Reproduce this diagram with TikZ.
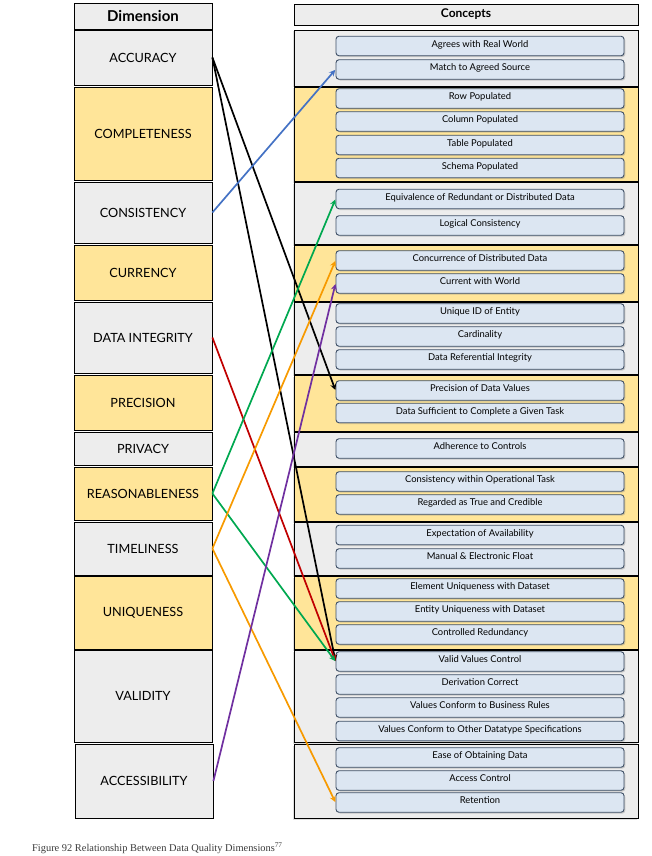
\documentclass[tikz,border=0pt]{standalone}
\usepackage{fontspec}
\setmainfont{Lato}
\newfontfamily\capfont{Liberation Serif}
\usetikzlibrary{shadows}
\definecolor{dimgrey}{HTML}{EDEDED}
\definecolor{dimgold}{HTML}{FFE599}
\definecolor{conceptfill}{HTML}{DCE6F2}
\definecolor{conceptline}{HTML}{3E4F66}
\definecolor{linkblue}{HTML}{4472C4}
\definecolor{linkred}{HTML}{C00000}
\definecolor{linkgreen}{HTML}{00A850}
\definecolor{linkorange}{HTML}{F79A00}
\definecolor{linkpurple}{HTML}{7030A0}
\definecolor{captiongrey}{HTML}{3A3A3A}
\begin{document}
\begin{tikzpicture}[x=1pt,y=-1pt,>=stealth,
	dimbox/.style={draw,line width=0.8pt,minimum width=138pt,inner sep=0pt,font=\fontsize{12.7}{14}\selectfont},
	groupbox/.style={draw,line width=0.8pt,drop shadow={shadow xshift=-1.5pt,shadow yshift=-1.5pt,opacity=0.25}},
	concept/.style={draw=conceptline,line width=0.9pt,fill=conceptfill,rounded corners=3pt,minimum width=288pt,minimum height=19.5pt,inner sep=0pt,text height=6.5pt,text depth=4pt,font=\fontsize{9.4}{11}\selectfont,drop shadow={shadow xshift=1.3pt,shadow yshift=-1.3pt,opacity=0.35}},
	link/.style={line width=1.7pt,->,shorten >=0.5pt}]
	\useasboundingbox (0,0) rectangle (652,856);
	
	% dimensions
	\node[dimbox,fill=dimgrey,minimum height=26pt,font=\bfseries\fontsize{15}{17}\selectfont] at (143,16) (dimension) {Dimension};
	\node[dimbox,fill=dimgrey,minimum height=55pt] at (143,57.5) (accuracy) {ACCURACY};
	\node[dimbox,fill=dimgold,minimum height=93pt] at (143,133.5) (completeness) {COMPLETENESS};
	\node[dimbox,fill=dimgrey,minimum height=61pt] at (143,212.5) (consistency) {CONSISTENCY};
	\node[dimbox,fill=dimgold,minimum height=55pt] at (143,272.5) (currency) {CURRENCY};
	\node[dimbox,fill=dimgrey,minimum height=71pt] at (143,337.5) (integrity) {DATA INTEGRITY};
	\node[dimbox,fill=dimgold,minimum height=55pt] at (143,402.5) (precision) {PRECISION};
	\node[dimbox,fill=dimgrey,minimum height=33pt] at (143,448.5) (privacy) {PRIVACY};
	\node[dimbox,fill=dimgold,minimum height=53pt] at (143,493.5) (reasonable) {REASONABLENESS};
	\node[dimbox,fill=dimgrey,minimum height=53pt] at (143,548.5) (timeliness) {TIMELINESS};
	\node[dimbox,fill=dimgold,minimum height=73pt] at (143,612.5) (uniqueness) {UNIQUENESS};
	\node[dimbox,fill=dimgrey,minimum height=92pt] at (143,696) (validity) {VALIDITY};
	\node[dimbox,fill=dimgrey,minimum height=74pt] at (144,781) (accessibility) {ACCESSIBILITY};
	
	% concept groups
	\node[draw,line width=0.8pt,fill=dimgrey,minimum width=344pt,minimum height=21pt,inner sep=0pt,font=\bfseries\fontsize{12}{14}\selectfont] at (466,14.5) (concepts) {Concepts};
	\path[groupbox,fill=dimgrey] (294,30) rectangle (638,86);
	\path[groupbox,fill=dimgold] (294,87) rectangle (638,181);
	\path[groupbox,fill=dimgrey] (294,182) rectangle (638,244);
	\path[groupbox,fill=dimgold] (294,245) rectangle (638,301);
	\path[groupbox,fill=dimgrey] (294,302) rectangle (638,374);
	\path[groupbox,fill=dimgold] (294,375) rectangle (638,431);
	\path[groupbox,fill=dimgrey] (294,432) rectangle (638,466);
	\path[groupbox,fill=dimgold] (294,467) rectangle (638,521);
	\path[groupbox,fill=dimgrey] (294,522) rectangle (638,575);
	\path[groupbox,fill=dimgold] (294,576) rectangle (638,649);
	\path[groupbox,fill=dimgrey] (294,650) rectangle (638,742);
	\path[groupbox,fill=dimgrey] (294,744) rectangle (638,818);
	
	% concepts
	\node[concept] at (480,46) (agrees) {Agrees with Real World};
	\node[concept] at (480,69.5) (match) {Match to Agreed Source};
	\node[concept] at (480,98.5) (row) {Row Populated};
	\node[concept] at (480,121.5) (column) {Column Populated};
	\node[concept] at (480,145) (table) {Table Populated};
	\node[concept] at (480,168) (schema) {Schema Populated};
	\node[concept] at (480,199) (equivalence) {Equivalence of Redundant or Distributed Data};
	\node[concept] at (480,225.5) (logical) {Logical Consistency};
	\node[concept] at (480,260.5) (concurrence) {Concurrence of Distributed Data};
	\node[concept] at (480,283.5) (current) {Current with World};
	\node[concept] at (480,313.5) (uniqueid) {Unique ID of Entity};
	\node[concept] at (480,336.5) (cardinality) {Cardinality};
	\node[concept] at (480,359.5) (referential) {Data Referential Integrity};
	\node[concept] at (480,390.5) (precvalues) {Precision of Data Values};
	\node[concept] at (480,413) (sufficient) {Data Sufficient to Complete a Given Task};
	\node[concept] at (480,448.5) (adherence) {Adherence to Controls};
	\node[concept] at (480,481.5) (operational) {Consistency within Operational Task};
	\node[concept] at (480,504.5) (credible) {Regarded as True and Credible};
	\node[concept] at (480,535) (availability) {Expectation of Availability};
	\node[concept] at (480,558.5) (float) {Manual \& Electronic Float};
	\node[concept] at (480,588.5) (element) {Element Uniqueness with Dataset};
	\node[concept] at (480,611.5) (entity) {Entity Uniqueness with Dataset};
	\node[concept] at (480,634.5) (redundancy) {Controlled Redundancy};
	\node[concept] at (480,661.5) (validvalues) {Valid Values Control};
	\node[concept] at (480,684.5) (derivation) {Derivation Correct};
	\node[concept] at (480,707.5) (business) {Values Conform to Business Rules};
	\node[concept] at (480,731) (datatype) {Values Conform to Other Datatype Specifications};
	\node[concept] at (480,757.5) (ease) {Ease of Obtaining Data};
	\node[concept] at (480,780.5) (access) {Access Control};
	\node[concept] at (480,802.5) (retention) {Retention};
	
	% links
	\draw[link] (accuracy.east) -- (precvalues.west);
	\draw[link] (accuracy.east) -- (validvalues.west);
	\draw[link,linkblue] (consistency.east) -- (match.west);
	\draw[link,linkred] (integrity.east) -- (validvalues.west);
	\draw[link,linkgreen] (reasonable.east) -- (equivalence.west);
	\draw[link,linkgreen] (reasonable.east) -- (validvalues.west);
	\draw[link,linkorange] (timeliness.east) -- (concurrence.west);
	\draw[link,linkorange] (timeliness.east) -- (retention.west);
	\draw[link,linkpurple] (accessibility.east) -- (current.west);
	
	\node[anchor=base west,inner sep=0pt,text=captiongrey,font=\capfont\fontsize{10.4}{12}\selectfont] at (32,851) (caption) {Figure 92 Relationship Between Data Quality Dimensions\textsuperscript{77}};
\end{tikzpicture}
\end{document}
